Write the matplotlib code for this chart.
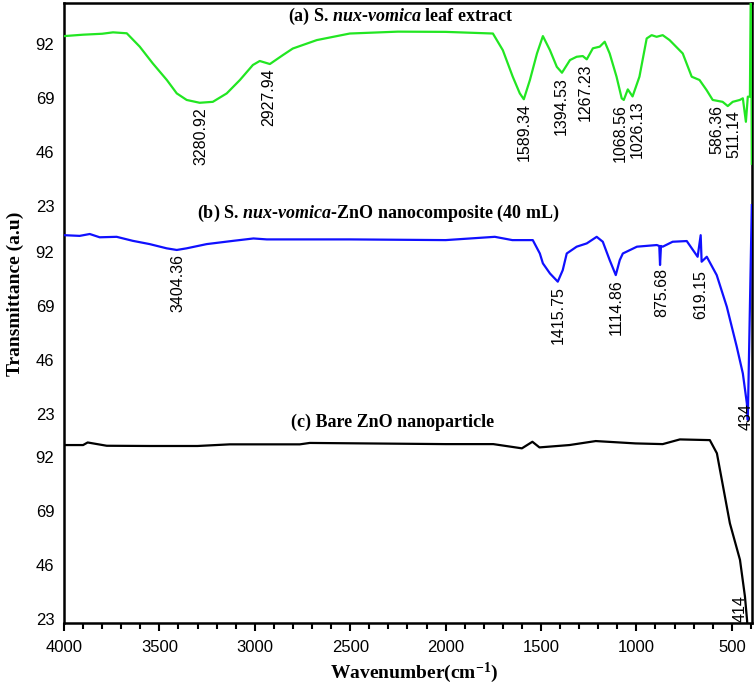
import numpy as np
import matplotlib
matplotlib.use("Agg")
import matplotlib.pyplot as plt

plt.rcParams['font.family'] = ['Liberation Sans', 'DejaVu Sans']
plt.rcParams['mathtext.fontset'] = 'custom'
plt.rcParams['mathtext.rm'] = 'Liberation Serif'
plt.rcParams['mathtext.it'] = 'Liberation Serif:italic'
plt.rcParams['mathtext.bf'] = 'Liberation Serif:bold'
plt.rcParams['mathtext.bfit'] = 'Liberation Serif:italic:bold'

# (a) leaf extract spectrum (wavenumber, transmittance)
wn_a = [4000, 3900, 3800, 3743, 3671, 3603, 3535, 3461, 3409, 3357, 3289, 3220,
        3147, 3078, 3010, 2974, 2921, 2853, 2801, 2675, 2502, 2250, 2000, 1752,
        1700, 1648, 1611, 1590, 1558, 1521, 1490, 1453, 1417, 1390, 1348, 1313,
        1281, 1260, 1228, 1192, 1166, 1140, 1104, 1077, 1066, 1045, 1020, 984,
        946, 920, 894, 862, 826, 757, 710, 669, 632, 600, 548, 521, 495, 458,
        442, 426, 416, 405, 399, 395]
t_a = [95.4, 96.0, 96.4, 97.0, 96.6, 90.9, 83.8, 76.7, 71.0, 68.2, 67.0, 67.4,
       71.0, 76.7, 83.1, 84.8, 83.5, 87.3, 90.1, 93.7, 96.5, 97.3, 97.2, 96.5,
       89.4, 78.1, 71.0, 68.5, 76.7, 88.0, 95.4, 89.4, 82.3, 79.8, 85.2, 86.6,
       86.9, 85.5, 90.2, 90.9, 93.0, 88.0, 78.1, 68.9, 68.2, 72.7, 69.7, 78.1,
       94.4, 95.8, 95.1, 95.8, 93.7, 88.0, 78.1, 76.7, 72.4, 68.2, 67.4, 65.6, 67.4, 68.2,
       68.9, 58.9, 69.6, 69.6, 130.0, 41.0]

# (b) ZnO nanocomposite spectrum
wn_b = [4000, 3918, 3865, 3813, 3724, 3640, 3551, 3462, 3409, 3357, 3252, 3112,
        3007, 2937, 2764, 2500, 2000, 1742, 1650, 1543, 1506, 1490, 1453, 1412,
        1386, 1365, 1313, 1260, 1208, 1176, 1140, 1108, 1087, 1071, 997, 893,
        880, 876, 871, 862, 810, 736, 679, 663, 658, 631, 579, 526, 474, 442,
        421, 416, 395]
t_b = [99.2, 98.9, 99.7, 98.3, 98.5, 96.8, 95.4, 93.6, 92.9, 93.6, 95.4, 96.8,
       97.8, 97.4, 97.4, 97.4, 97.1, 98.5, 97.1, 97.1, 91.4, 87.2, 82.9, 79.4,
       84.3, 91.4, 94.3, 95.7, 98.5, 96.4, 88.6, 82.2, 88.6, 91.4, 94.3, 95.0,
       94.6, 86.5, 94.6, 94.3, 96.4, 96.7, 90.0, 99.2, 87.9, 90.0, 82.2, 68.7, 51.7, 40.3,
       27.6, 20.5, 112.0]

# (c) bare ZnO spectrum
wn_c = [4000, 3900, 3876, 3776, 3550, 3300, 3131, 2764, 2712, 2000, 1750, 1600,
        1545, 1508, 1351, 1213, 1005, 862, 772, 615, 578, 510, 457, 431, 420, 414]
t_c = [97.1, 97.1, 98.2, 96.8, 96.7, 96.7, 97.4, 97.4, 98.0, 97.5, 97.5, 95.7,
       98.5, 96.1, 97.1, 98.8, 97.8, 97.5, 99.5, 99.2, 93.6, 63.8, 48.2, 32.6, 22.6, 15.0]

peaks_a = [3280.92, 2927.94, 1589.34, 1394.53, 1267.23, 1068.56, 1026.13, 586.36, 511.14]
peaks_b = [3404.36, 1415.75, 1114.86, 875.68, 619.15]
end_b = 434
end_c = 414

yticks = [23, 46, 69, 92]
offsets = {'a': 175.9, 'b': 87.3, 'c': 0.0}
titles = {'a': r"(a) S. $\mathbfit{nux}$-$\mathbfit{vomica}$ leaf extract",
          'b': r"(b) S. $\mathbfit{nux}$-$\mathbfit{vomica}$-ZnO nanocomposite (40 mL)",
          'c': "(c) Bare ZnO nanoparticle"}

# nudge crowded labels sideways (in cm-1)
label_shift = {1068.56: 18, 1026.13: -30, 586.36: -8, 511.14: -22,
               1415.75: -8, 1114.86: -7, 875.68: -8, 619.15: 44}


def local_min(wn, t, x, half=15):
    wn = np.asarray(wn)
    t = np.asarray(t)
    grid = np.linspace(x - half, x + half, 31)
    return np.interp(grid, wn[::-1], t[::-1]).min()


fig = plt.figure(figsize=(7.54, 6.86), dpi=100)
ax = fig.add_axes([64 / 754, 63 / 686, 688 / 754, 620 / 686])

series = [('a', wn_a, t_a, '#22e622'), ('b', wn_b, t_b, '#1010ff'), ('c', wn_c, t_c, 'black')]
for key, wn, t, col in series:
    ax.plot(wn, np.array(t) + offsets[key], color=col, lw=1.6, zorder=3)

# peak labels
for key, wn, t, peaks in [('a', wn_a, t_a, peaks_a), ('b', wn_b, t_b, peaks_b)]:
    for p in peaks:
        x = p + label_shift.get(p, 0)
        y = local_min(wn, t, p) + offsets[key] - 1.8
        ax.text(x, y, f"{p:.2f}", rotation=90, ha='center', va='top', fontsize=11.5)
ax.text(end_b - 8, 16.3 + offsets['b'], str(end_b), rotation=90, ha='center', va='bottom', fontsize=11.5)
ax.text(end_c + 43, 21.7, str(end_c), rotation=90, ha='center', va='bottom', fontsize=11.5)

# panel titles
title_pos = {'a': (0.49, 0.979), 'b': (0.456, 0.660), 'c': (0.478, 0.323)}
for key in ['a', 'b', 'c']:
    ax.text(*title_pos[key], titles[key], transform=ax.transAxes, ha='center', va='center',
            fontsize=13, fontweight='bold', family='Liberation Serif')

ax.set_xlim(4000, 394)
ax.set_ylim(21.3, 285.4)
ax.set_xticks(np.arange(4000, 499, -500))
ax.set_xticks(np.arange(4000, 399, -100), minor=True)
ax.tick_params(axis='x', which='major', direction='out', length=6, width=1.5, labelsize=12, pad=6)
ax.tick_params(axis='x', which='minor', direction='out', length=4, width=1.5)

ytick_pos = [v + offsets[k] for k in ['c', 'b', 'a'] for v in yticks]
ax.set_yticks(ytick_pos)
ax.set_yticklabels([str(v) for k in ['c', 'b', 'a'] for v in yticks])
ax.tick_params(axis='y', length=0, labelsize=12, pad=7)

for s in ax.spines.values():
    s.set_linewidth(1.8)

fig.text(0.02, 0.571, "Transmittance (a.u)", rotation=90, ha='center', va='center',
         fontsize=14, fontweight='bold', family='Liberation Serif')
fig.text(0.549, 0.019, r"Wavenumber(cm$^{\mathbf{-1}}$)", ha='center', va='center',
         fontsize=14, fontweight='bold', family='Liberation Serif')

fig.savefig("out.png", dpi=100)
